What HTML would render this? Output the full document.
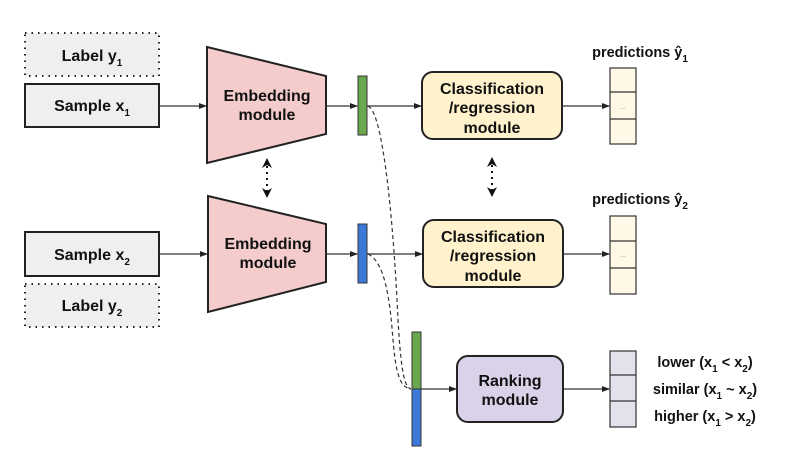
<!DOCTYPE html>
<html><head><meta charset="utf-8"><style>
html,body{margin:0;padding:0;background:#fff}
svg{display:block}
text{font-family:"Liberation Sans",Arial,sans-serif;font-weight:bold;fill:#111}
</style></head><body>
<svg width="791" height="459" viewBox="0 0 791 459" xmlns="http://www.w3.org/2000/svg">
<defs>
<marker id="a" markerWidth="8" markerHeight="6" refX="7" refY="3" orient="auto" markerUnits="userSpaceOnUse"><path d="M0,0 L8,3 L0,6 z" fill="#222"/></marker>
</defs>
<rect x="25" y="33" width="134" height="43" fill="#efefef" stroke="#222" stroke-width="2" stroke-dasharray="1.5,5"/>
<text x="92" y="61" font-size="16" text-anchor="middle">Label y<tspan font-size="10" dy="5">1</tspan></text>
<rect x="25" y="84" width="134" height="43" fill="#efefef" stroke="#222" stroke-width="2"/>
<text x="92" y="111" font-size="16" text-anchor="middle">Sample x<tspan font-size="10" dy="5">1</tspan></text>
<rect x="25" y="232" width="134" height="44" fill="#efefef" stroke="#222" stroke-width="2"/>
<text x="92" y="260" font-size="16" text-anchor="middle">Sample x<tspan font-size="10" dy="5">2</tspan></text>
<rect x="25" y="284" width="134" height="43" fill="#efefef" stroke="#222" stroke-width="2" stroke-dasharray="1.5,5"/>
<text x="92" y="311" font-size="16" text-anchor="middle">Label y<tspan font-size="10" dy="5">2</tspan></text>
<line x1="159" y1="106" x2="206" y2="106" stroke="#333" stroke-width="1.2" marker-end="url(#a)"/>
<line x1="159" y1="254" x2="207" y2="254" stroke="#333" stroke-width="1.2" marker-end="url(#a)"/>
<polygon points="207,47 326,76 326,134 207,163" fill="#f4cccc" stroke="#222" stroke-width="2"/>
<text x="267" y="101" font-size="16" text-anchor="middle">Embedding</text>
<text x="267" y="120" font-size="16" text-anchor="middle">module</text>
<polygon points="208,196 326,224 326,282 208,312" fill="#f4cccc" stroke="#222" stroke-width="2"/>
<text x="268" y="249" font-size="16" text-anchor="middle">Embedding</text>
<text x="268" y="268" font-size="16" text-anchor="middle">module</text>
<line x1="267" y1="166" x2="267" y2="191" stroke="#111" stroke-width="2" stroke-dasharray="2,4"/>
<path d="M267,158 l-5,10 l5,-3 l5,3 z" fill="#111"/>
<path d="M267,198 l-5,-10 l5,3 l5,-3 z" fill="#111"/>
<line x1="492" y1="165" x2="492" y2="190" stroke="#111" stroke-width="2" stroke-dasharray="2,4"/>
<path d="M492,157 l-5,10 l5,-3 l5,3 z" fill="#111"/>
<path d="M492,197 l-5,-10 l5,3 l5,-3 z" fill="#111"/>
<line x1="326" y1="106" x2="357" y2="106" stroke="#333" stroke-width="1.2" marker-end="url(#a)"/>
<line x1="326" y1="254" x2="357" y2="254" stroke="#333" stroke-width="1.2" marker-end="url(#a)"/>
<rect x="358" y="76" width="9" height="59" fill="#6aa84f" stroke="#333" stroke-width="1"/>
<rect x="358" y="224" width="9" height="59" fill="#3c78d8" stroke="#333" stroke-width="1"/>
<line x1="367" y1="106" x2="421" y2="106" stroke="#333" stroke-width="1.2" marker-end="url(#a)"/>
<line x1="367" y1="254" x2="422" y2="254" stroke="#333" stroke-width="1.2" marker-end="url(#a)"/>
<path d="M368,106 C385,112 395,250 398,320 C401,370 404,387 411,389" fill="none" stroke="#333" stroke-width="1.2" stroke-dasharray="4,3"/>
<path d="M368,254 C385,262 390,300 393,340 C396,375 400,387 411,389" fill="none" stroke="#333" stroke-width="1.2" stroke-dasharray="4,3"/>
<rect x="422" y="72" width="140" height="67" rx="11" fill="#fff2cc" stroke="#222" stroke-width="2"/>
<text x="492" y="94" font-size="16" text-anchor="middle">Classification</text>
<text x="492" y="113" font-size="16" text-anchor="middle">/regression</text>
<text x="492" y="133" font-size="16" text-anchor="middle">module</text>
<rect x="423" y="220" width="140" height="67" rx="11" fill="#fff2cc" stroke="#222" stroke-width="2"/>
<text x="493" y="242" font-size="16" text-anchor="middle">Classification</text>
<text x="493" y="261" font-size="16" text-anchor="middle">/regression</text>
<text x="493" y="281" font-size="16" text-anchor="middle">module</text>
<line x1="562" y1="106" x2="609" y2="106" stroke="#333" stroke-width="1.2" marker-end="url(#a)"/>
<line x1="563" y1="254" x2="609" y2="254" stroke="#333" stroke-width="1.2" marker-end="url(#a)"/>
<rect x="610" y="68" width="26" height="76" fill="#fff8e6" stroke="#333" stroke-width="1.2"/>
<line x1="610" y1="92" x2="636" y2="92" stroke="#333" stroke-width="1.2"/>
<line x1="610" y1="119" x2="636" y2="119" stroke="#333" stroke-width="1.2"/>
<text x="623" y="109" font-size="7" text-anchor="middle" style="font-weight:normal;fill:#888">...</text>
<text x="640" y="57" font-size="14.5" text-anchor="middle">predictions ŷ<tspan font-size="10" dy="5">1</tspan></text>
<rect x="610" y="216" width="26" height="78" fill="#fff8e6" stroke="#333" stroke-width="1.2"/>
<line x1="610" y1="241" x2="636" y2="241" stroke="#333" stroke-width="1.2"/>
<line x1="610" y1="268" x2="636" y2="268" stroke="#333" stroke-width="1.2"/>
<text x="623" y="257" font-size="7" text-anchor="middle" style="font-weight:normal;fill:#888">...</text>
<text x="640" y="204" font-size="14.5" text-anchor="middle">predictions ŷ<tspan font-size="10" dy="5">2</tspan></text>
<rect x="412" y="332" width="9" height="57" fill="#6aa84f" stroke="#333" stroke-width="1"/>
<rect x="412" y="389" width="9" height="57" fill="#3c78d8" stroke="#333" stroke-width="1"/>
<line x1="421" y1="389" x2="456" y2="389" stroke="#333" stroke-width="1.2" marker-end="url(#a)"/>
<rect x="457" y="356" width="106" height="66" rx="11" fill="#d9d2e9" stroke="#222" stroke-width="2"/>
<text x="510" y="386" font-size="16" text-anchor="middle">Ranking</text>
<text x="510" y="405" font-size="16" text-anchor="middle">module</text>
<line x1="563" y1="389" x2="609" y2="389" stroke="#333" stroke-width="1.2" marker-end="url(#a)"/>
<rect x="610" y="351" width="26" height="76" fill="#e4e0ec" stroke="#333" stroke-width="1.2"/>
<line x1="610" y1="375" x2="636" y2="375" stroke="#333" stroke-width="1.2"/>
<line x1="610" y1="401" x2="636" y2="401" stroke="#333" stroke-width="1.2"/>
<text x="705" y="367" font-size="14.5" text-anchor="middle">lower (x<tspan font-size="10" dy="5">1</tspan><tspan dy="-5"> &lt; x</tspan><tspan font-size="10" dy="5">2</tspan><tspan dy="-5">)</tspan></text>
<text x="705" y="394" font-size="14.5" text-anchor="middle">similar (x<tspan font-size="10" dy="5">1</tspan><tspan dy="-5"> ~ x</tspan><tspan font-size="10" dy="5">2</tspan><tspan dy="-5">)</tspan></text>
<text x="705" y="421" font-size="14.5" text-anchor="middle">higher (x<tspan font-size="10" dy="5">1</tspan><tspan dy="-5"> &gt; x</tspan><tspan font-size="10" dy="5">2</tspan><tspan dy="-5">)</tspan></text>
</svg>
</body></html>
